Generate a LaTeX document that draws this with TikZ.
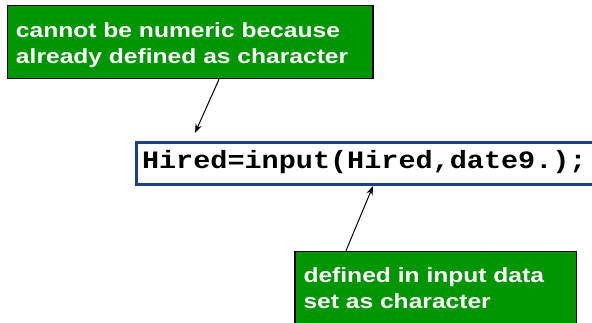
\documentclass[tikz,border=0pt]{standalone}
\usepackage{fontspec}
\usetikzlibrary{arrows.meta,calc}
\newfontfamily\notefont[FakeStretch=1.2]{Liberation Sans}
\newfontfamily\codefont[FakeStretch=1.14]{Liberation Mono}
\definecolor{notegreen}{RGB}{0,150,0}
\definecolor{codeblue}{RGB}{28,63,148}
\tikzset{
  notebox/.style={draw=black, line width=1.5pt, fill=notegreen, text=white,
    align=left, anchor=north west, inner xsep=8.5pt, inner ysep=0pt,
    font=\notefont\bfseries\fontsize{20.5pt}{25.5pt}\selectfont},
  codebox/.style={draw=codeblue, line width=3pt, fill=white, anchor=west,
    align=left, inner xsep=6pt, inner ysep=0pt,
    text height=26pt, text depth=16pt,
    font=\codefont\bfseries\fontsize{25pt}{30pt}\selectfont},
  pointer/.style={-{Stealth[length=9pt,width=6.5pt]}, line width=1pt, black}
}
\begin{document}
\begin{tikzpicture}[x=1pt,y=-1pt]
  \useasboundingbox (0,0) rectangle (592,322);
  \clip (0,0) rectangle (592,322);
  % annotation above the statement
  \node[notebox, text width=348.5pt, text height=32pt, text depth=41pt]
    (note1) at (6.75,4.75)
    {cannot be numeric because\\already defined as character};
  % the SAS statement
  \node[codebox, text width=470pt] (code) at (134.5,163.5)
    {Hired=input(Hired,date9.);};
  % annotation below the statement
  \node[notebox, text width=264.5pt, text height=31.25pt, text depth=60pt]
    (note2) at (294.25,250.75)
    {defined in input data\\set as character};
  % connectors
  \coordinate (tip1) at (195,133);
  \draw[pointer] (note1.south -| 219,0) -- (tip1);
  \draw[pointer] (note2.north -| 346,0) -- (code.south -| 373,0);
\end{tikzpicture}
\end{document}
